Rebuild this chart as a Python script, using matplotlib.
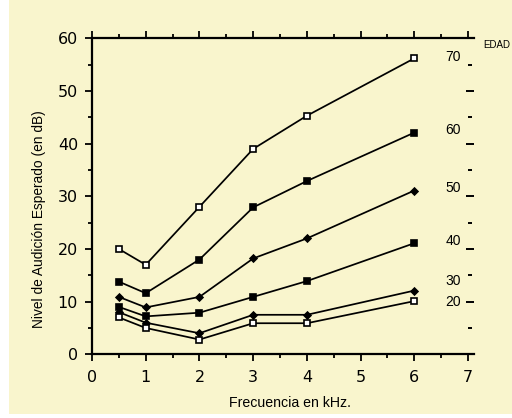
import matplotlib
matplotlib.use("Agg")
import matplotlib.pyplot as plt
from matplotlib.patches import Rectangle

plt.rcParams['font.family'] = ['Liberation Sans', 'DejaVu Sans']

freq = [0.5, 1, 2, 3, 4, 6]
ages = [70, 60, 50, 40, 30, 20]
levels = {
    70: [20, 17, 28, 39, 45.3, 56.2],
    60: [13.8, 11.6, 18.0, 27.9, 32.9, 42.1],
    50: [10.9, 8.9, 10.9, 18.2, 22.0, 31.1],
    40: [9.0, 7.2, 7.9, 10.9, 13.9, 21.1],
    30: [8.0, 6.0, 4.0, 7.5, 7.5, 12.1],
    20: [7.0, 5.0, 2.8, 5.9, 5.9, 10.1],
}
age_label_y = [56.5, 42.6, 31.6, 21.5, 13.9, 9.9]
scale_long = [50, 40, 30, 20, 10]
scale_short = [55, 45, 35, 25, 15, 5]

styles = {
    70: dict(marker='s', mfc='white', ms=5),
    60: dict(marker='s', mfc='black', ms=4.5),
    50: dict(marker='D', mfc='black', ms=3.5),
    40: dict(marker='s', mfc='black', ms=4.5),
    30: dict(marker='D', mfc='black', ms=3.5),
    20: dict(marker='s', mfc='white', ms=4.5),
}

bg = '#f9f5cd'
fig = plt.figure(figsize=(5.12, 4.18), dpi=100, facecolor=bg)
fig.patches.append(Rectangle((0, 0), 9/512, 1, transform=fig.transFigure, facecolor='white', edgecolor='none', zorder=-1))
fig.patches.append(Rectangle((0, 0), 1, 4/418, transform=fig.transFigure, facecolor='white', edgecolor='none', zorder=-1))

ax = fig.add_axes([92/512, 63.7/418, 382/512, 316/418])
ax.set_facecolor(bg)
ax.set_xlim(0, 7.11)
ax.set_ylim(0, 60)

for age in ages:
    st = styles[age]
    ax.plot(freq, levels[age], color='black', lw=1.25, marker=st['marker'],
            mfc=st['mfc'], mec='black', mew=1.2, ms=st['ms'], clip_on=False, zorder=3)

ax.spines['right'].set_visible(False)
for s in ['left', 'top', 'bottom']:
    ax.spines[s].set_linewidth(1.6)

ax.set_xticks(range(0, 8))
ax.set_xticks([0.5 + i for i in range(7)], minor=True)
ax.set_yticks(range(0, 61, 10))
ax.set_yticks(range(5, 60, 10), minor=True)
ax.tick_params(axis='x', which='major', direction='out', length=5, width=1.3,
               top=True, labelsize=11.5, pad=6)
ax.tick_params(axis='x', which='minor', direction='out', length=3, width=1.3, top=True)
ax.tick_params(axis='y', which='major', direction='out', length=5, width=1.3, labelsize=11.5, pad=5)
ax.tick_params(axis='y', which='minor', direction='out', length=3, width=1.3)
for lab in ax.get_xticklabels() + ax.get_yticklabels():
    lab.set_family(['DejaVu Sans'])

ax.set_xlabel('Frecuencia en kHz.', fontsize=10.2)
ax.set_ylabel('Nivel de Audición Esperado (en dB)', fontsize=9.9)
ax.xaxis.set_label_coords(0.518, -0.154)
ax.xaxis.label.set_va('center')
ax.yaxis.set_label_coords(-0.139, 0.428)
ax.yaxis.label.set_va('center')

for a, yv in zip(ages, age_label_y):
    ax.text(6.72, yv, str(a), fontsize=10, ha='center', va='center', clip_on=False)
ax.plot([7.04] * len(scale_long), scale_long, ls='none', marker='_', ms=6,
        mew=1.4, color='black', clip_on=False)
ax.plot([7.04] * len(scale_short), scale_short, ls='none', marker='_', ms=3,
        mew=1.4, color='black', clip_on=False)
ax.text(7.28, 58.8, 'EDAD', fontsize=7, ha='left', va='center', clip_on=False)

fig.savefig('out.png', dpi=100, facecolor=bg)
